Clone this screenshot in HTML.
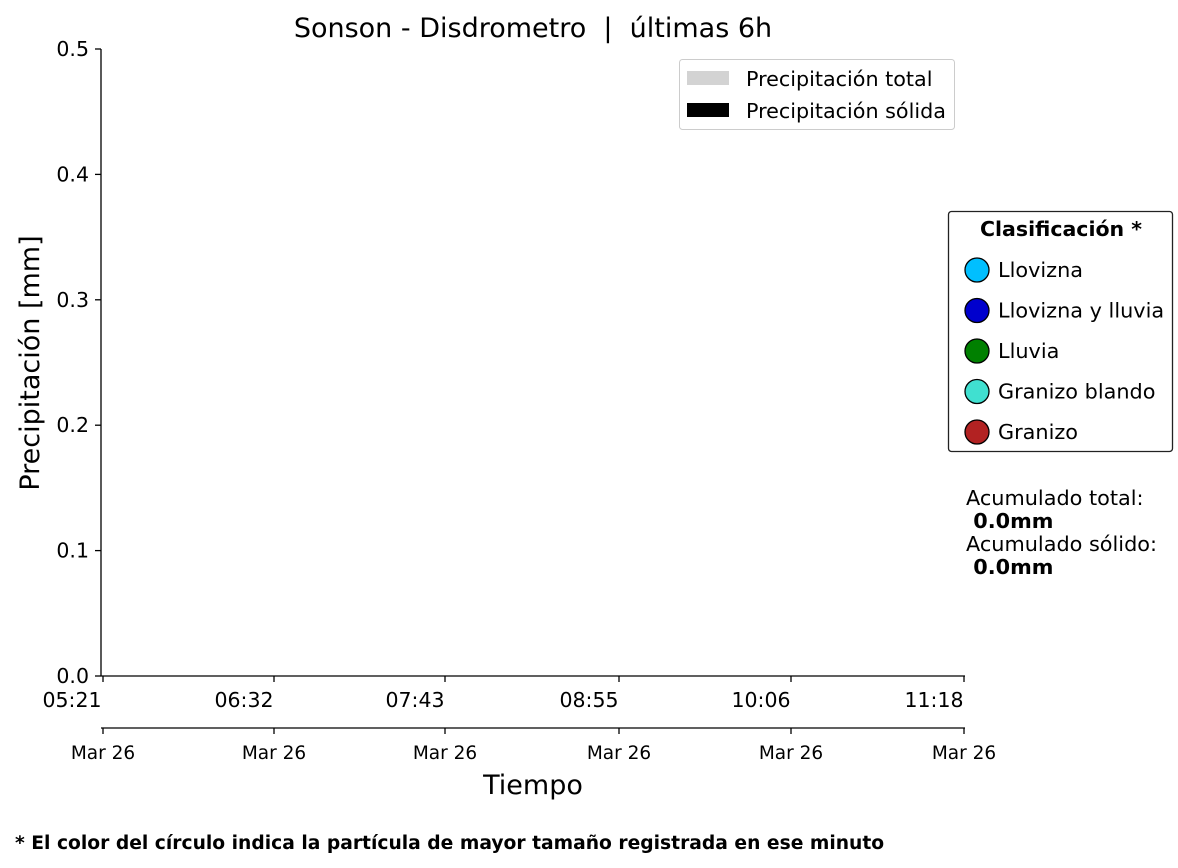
<!DOCTYPE html>
<html><head><meta charset="utf-8"><style>body{margin:0;background:#fff}svg{display:block}text{font-family:"DejaVu Sans","Liberation Sans",sans-serif;fill:#000;white-space:pre}</style></head><body>
<svg width="1178" height="868" viewBox="0 0 1178 868">
<text x="533" y="37" font-size="27" text-anchor="middle" xml:space="preserve">Sonson - Disdrometro  |  últimas 6h</text>
<g stroke="#000" stroke-width="1.3" fill="none">
<line x1="101" y1="49" x2="101" y2="676"/>
<line x1="101" y1="676" x2="965" y2="676"/>
<line x1="101" y1="728" x2="965" y2="728"/>
</g>
<g stroke="#000" stroke-width="1.3">
<line x1="95" y1="676" x2="101" y2="676"/><line x1="95" y1="550.6" x2="101" y2="550.6"/><line x1="95" y1="425.2" x2="101" y2="425.2"/><line x1="95" y1="299.8" x2="101" y2="299.8"/><line x1="95" y1="174.4" x2="101" y2="174.4"/><line x1="95" y1="49" x2="101" y2="49"/>
<line x1="103" y1="676" x2="103" y2="682"/><line x1="274" y1="676" x2="274" y2="682"/><line x1="445" y1="676" x2="445" y2="682"/><line x1="619" y1="676" x2="619" y2="682"/><line x1="791" y1="676" x2="791" y2="682"/><line x1="964" y1="676" x2="964" y2="682"/>
<line x1="103" y1="728" x2="103" y2="734"/><line x1="274" y1="728" x2="274" y2="734"/><line x1="445" y1="728" x2="445" y2="734"/><line x1="619" y1="728" x2="619" y2="734"/><line x1="791" y1="728" x2="791" y2="734"/><line x1="964" y1="728" x2="964" y2="734"/>
</g>
<g font-size="20.5" text-anchor="end">
<text x="89" y="683">0.0</text><text x="89" y="557.6">0.1</text><text x="89" y="432.2">0.2</text><text x="89" y="306.8">0.3</text><text x="89" y="181.4">0.4</text><text x="89" y="56">0.5</text>
</g>
<g font-size="20.5" text-anchor="middle">
<text x="72" y="707">05:21</text><text x="244" y="707">06:32</text><text x="415" y="707">07:43</text><text x="589" y="707">08:55</text><text x="761" y="707">10:06</text><text x="934" y="707">11:18</text>
</g>
<g font-size="18.5" text-anchor="middle">
<text x="103" y="759">Mar 26</text><text x="274" y="759">Mar 26</text><text x="445" y="759">Mar 26</text><text x="619" y="759">Mar 26</text><text x="791" y="759">Mar 26</text><text x="964" y="759">Mar 26</text>
</g>
<text x="533" y="794" font-size="27" text-anchor="middle">Tiempo</text>
<text transform="translate(39,363) rotate(-90)" font-size="27" text-anchor="middle">Precipitación [mm]</text>
<rect x="679.5" y="59.5" width="275" height="70" rx="3" fill="#fff" stroke="#ccc"/>
<rect x="687" y="71" width="42" height="14" fill="#d3d3d3"/>
<rect x="687" y="103" width="42" height="14" fill="#000"/>
<text x="746" y="86" font-size="20.7">Precipitación total</text>
<text x="746" y="118" font-size="20.7">Precipitación sólida</text>
<rect x="948.5" y="211.5" width="224" height="240" rx="3" fill="#fff" stroke="#222" stroke-width="1.3"/>
<text x="1061" y="236" font-size="20.5" font-weight="bold" text-anchor="middle">Clasificación *</text>
<g stroke="#000" stroke-width="1.3">
<circle cx="977" cy="270" r="12" fill="#00bfff"/>
<circle cx="977" cy="310.5" r="12" fill="#0000cd"/>
<circle cx="977" cy="351" r="12" fill="#008000"/>
<circle cx="977" cy="391.5" r="12" fill="#40e0d0"/>
<circle cx="977" cy="432" r="12" fill="#b22222"/>
</g>
<g font-size="20.8">
<text x="998" y="277">Llovizna</text><text x="998" y="317.5">Llovizna y lluvia</text><text x="998" y="358">Lluvia</text><text x="998" y="398.5">Granizo blando</text><text x="998" y="439">Granizo</text>
</g>
<g font-size="20.8">
<text x="966" y="505">Acumulado total:</text>
<text x="966" y="528" font-weight="bold" xml:space="preserve"> 0.0mm</text>
<text x="966" y="551">Acumulado sólido:</text>
<text x="966" y="574" font-weight="bold" xml:space="preserve"> 0.0mm</text>
</g>
<text x="15" y="849" font-size="18.7" font-weight="bold">* El color del círculo indica la partícula de mayor tamaño registrada en ese minuto</text>
</svg>
</body></html>
